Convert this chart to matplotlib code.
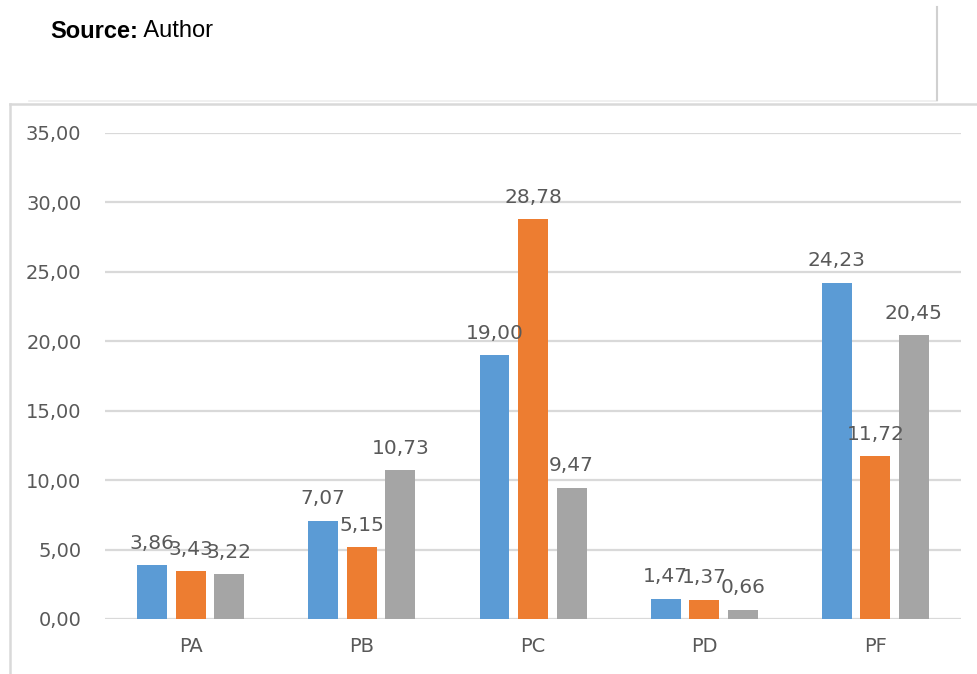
import matplotlib

matplotlib.use("Agg")
import matplotlib.pyplot as plt
from matplotlib.lines import Line2D
import numpy as np

categories = ["PA", "PB", "PC", "PD", "PF"]
series_1 = [3.86, 7.07, 19.00, 1.47, 24.23]
series_2 = [3.43, 5.15, 28.78, 1.37, 11.72]
series_3 = [3.22, 10.73, 9.47, 0.66, 20.45]
colors = ["#5B9BD5", "#ED7D31", "#A5A5A5"]

W, H = 977, 674
TEXT = "#595959"
GRID = "#D9D9D9"


def comma(v):
    return f"{v:.2f}".replace(".", ",")


fig = plt.figure(figsize=(W / 100, H / 100), dpi=100)
ax = fig.add_axes([105 / W, 1 - 619 / H, (961 - 105) / W, (619 - 133) / H])

x = np.arange(len(categories))
width = 0.175
step = 0.225
for i, (vals, col) in enumerate(zip([series_1, series_2, series_3], colors)):
    bars = ax.bar(x + (i - 1) * step, vals, width, color=col, zorder=3)
    for b, v in zip(bars, vals):
        # labels overlap for the short bars, same as in the source chart
        ax.annotate(comma(v), (b.get_x() + b.get_width() / 2, v),
                    xytext=(0, 9), textcoords="offset points",
                    ha="center", va="bottom", fontsize=14.5, color=TEXT, zorder=4)

ax.set_xlim(-0.5, len(categories) - 0.5)
ax.set_ylim(0, 35)
ax.set_yticks(np.arange(0, 36, 5))
ax.set_yticklabels([comma(v) for v in np.arange(0, 36, 5)])
ax.set_xticks(x)
ax.set_xticklabels(categories)
ax.tick_params(axis="both", length=0, labelsize=14, labelcolor=TEXT)
ax.tick_params(axis="y", pad=17)
ax.tick_params(axis="x", pad=13)
ax.grid(axis="y", color=GRID, linewidth=1.6, zorder=0)
for s in ax.spines.values():
    s.set_visible(False)


def px_line(x0, y0, x1, y1, color, lw):
    fig.add_artist(Line2D([x0 / W, x1 / W], [1 - y0 / H, 1 - y1 / H],
                          transform=fig.transFigure, color=color, linewidth=lw))


# chart frame and page lines
px_line(10, 104, 10, H, GRID, 1.8)
px_line(10, 104, W, 104, GRID, 1.8)
px_line(29, 101, 937, 101, "#EEEEEE", 1.2)
px_line(937, 7, 937, 100, "#D0D0D0", 1.5)

t = fig.text(50 / W, 1 - 31 / H, "Source:", fontsize=17, fontweight="bold",
             family="Liberation Sans", va="center", ha="left")
ax.annotate(" Author", xy=(1, 0.5), xycoords=t, va="center", ha="left",
            fontsize=17, family="Liberation Sans", annotation_clip=False)

fig.savefig("out.png", dpi=100)
